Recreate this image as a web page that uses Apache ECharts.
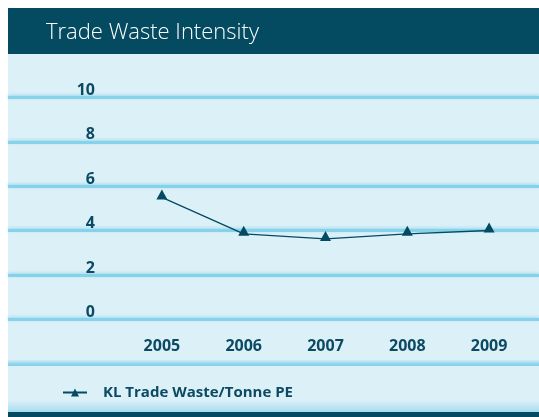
<!DOCTYPE html>
<html>
<head>
<meta charset="utf-8">
<script src="https://cdn.jsdelivr.net/npm/echarts@6/dist/echarts.min.js"></script>
<style>
html,body{margin:0;padding:0;background:#fff;}
#c{width:539px;height:417px;}
</style>
</head>
<body>
<div id="c"></div>
<script>
const titleText = 'Trade Waste Intensity';
const years = ['2005', '2006', '2007', '2008', '2009'];
const seriesName = 'KL Trade Waste/Tonne PE';
const values = [5.5, 3.86, 3.63, 3.86, 4.01];
const yTicks = [0, 2, 4, 6, 8, 10];

const dark = '#044a61';
const panel = '#dcf0f8';
const textCol = '#0b4a62';
const font = 'Open Sans';

const chart = echarts.init(document.getElementById('c'), null, {renderer: 'canvas'});
chart.setOption({
  animation: false,
  backgroundColor: '#ffffff',
  graphic: [
    {type: 'rect', silent: true, z: -10, shape: {x: 8, y: 8, width: 531, height: 46}, style: {fill: dark}},
    {type: 'rect', silent: true, z: -10, shape: {x: 8, y: 54, width: 531, height: 358}, style: {fill: panel}},
    {type: 'rect', silent: true, z: -9, shape: {x: 8, y: 400, width: 531, height: 12},
      style: {fill: new echarts.graphic.LinearGradient(0, 0, 0, 1, [{offset: 0, color: 'rgba(170,222,240,0)'}, {offset: 1, color: '#a6dcef'}])}},
    {type: 'rect', silent: true, z: -10, shape: {x: 8, y: 412, width: 531, height: 5}, style: {fill: dark}},
    {type: 'rect', silent: true, z: -9, shape: {x: 8, y: 360, width: 531, height: 6},
      style: {fill: new echarts.graphic.LinearGradient(0, 0, 0, 1, [{offset: 0, color: 'rgba(170,222,240,0.3)'}, {offset: 0.6, color: '#93d6ed'}, {offset: 1, color: '#82cfe9'}])}}
  ],
  title: {
    text: titleText,
    left: 41, top: 17,
    textStyle: {color: '#ffffff', fontFamily: 'Open Sans', fontWeight: 300, fontSize: 22}
  },
  legend: {
    left: 57, top: 380,
    itemWidth: 24, itemHeight: 10,
    data: [seriesName],
    textStyle: {color: textCol, fontFamily: font, fontWeight: 'bold', fontSize: 15, padding: [0, 0, 0, 11]}
  },
  grid: [
    {left: 8, right: 0, top: 97.5, height: 222},
    {left: 121, width: 409, top: 97.5, height: 222}
  ],
  xAxis: [
    {gridIndex: 0, type: 'value', show: false},
    {gridIndex: 1, type: 'category', data: years, boundaryGap: true,
      axisLine: {show: false}, axisTick: {show: false}, splitLine: {show: false},
      axisLabel: {color: textCol, fontFamily: font, fontWeight: 'bold', fontSize: 16, margin: 19}}
  ],
  yAxis: [
    {gridIndex: 0, type: 'value', min: yTicks[0], max: yTicks[yTicks.length - 1], interval: 2,
      offset: -87,
      axisLine: {show: false}, axisTick: {show: false},
      axisLabel: {color: textCol, fontFamily: font, fontWeight: 'bold', fontSize: 16, margin: 0,
        align: 'right', verticalAlign: 'bottom', padding: [0, 0, -1, 0]},
      splitLine: {show: true, lineStyle: {color: '#86d2ea', width: 3,
        shadowColor: 'rgba(140,212,236,0.8)', shadowBlur: 3, shadowOffsetY: -1}}},
    {gridIndex: 1, type: 'value', min: yTicks[0], max: yTicks[yTicks.length - 1], show: false, splitLine: {show: false}}
  ],
  series: [{
    name: seriesName,
    type: 'line',
    xAxisIndex: 1, yAxisIndex: 1,
    data: values,
    symbol: 'triangle',
    symbolSize: [11, 10],
    symbolOffset: [0, -3],
    color: dark,
    itemStyle: {color: dark},
    lineStyle: {color: dark, width: 1.3}
  }]
});
</script>
</body>
</html>
